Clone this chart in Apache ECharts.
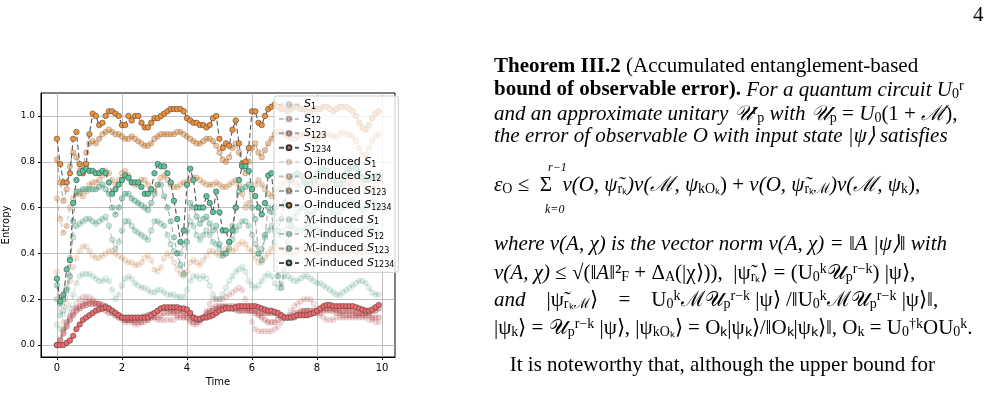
<!DOCTYPE html>
<html><head><meta charset="utf-8">
<script src="https://cdn.jsdelivr.net/npm/echarts@6/dist/echarts.min.js"></script>
<style>html,body{margin:0;background:#fff}#c{width:990px;height:413px}</style>
</head><body><div id="c"></div>
<script>
// time axis, 0.0 .. 9.9
var times = [];
for (var i = 0; i < 100; i++) times.push(+(i / 10).toFixed(1));
var yTicks = [0, 0.2, 0.4, 0.6, 0.8, 1.0];
var xTicks = [0, 2, 4, 6, 8, 10];

var s1 = [0,0.03,0.07,0.1,0.13,0.16,0.18,0.2,0.21,0.21,0.21,0.2,0.19,0.18,0.17,0.16,0.15,0.14,0.13,0.12,
 0.11,0.1,0.1,0.1,0.09,0.09,0.1,0.1,0.11,0.12,0.12,0.11,0.11,0.11,0.11,0.11,0.11,0.12,0.13,0.13,
 0.12,0.1,0.09,0.09,0.1,0.12,0.15,0.18,0.2,0.2,0.2,0.2,0.21,0.22,0.23,0.24,0.25,0.24,0.2,0.15,
 0.1,0.07,0.06,0.06,0.06,0.06,0.06,0.07,0.08,0.1,0.12,0.13,0.15,0.17,0.18,0.19,0.2,0.2,0.2,0.18,
 0.15,0.13,0.12,0.11,0.11,0.11,0.12,0.12,0.12,0.12,0.12,0.12,0.12,0.12,0.12,0.12,0.11,0.11,0.1,0.1];
var s12 = [0,0.02,0.06,0.09,0.12,0.14,0.16,0.17,0.18,0.19,0.19,0.19,0.18,0.17,0.16,0.15,0.14,0.14,0.13,0.12,
 0.12,0.11,0.11,0.11,0.1,0.1,0.1,0.11,0.11,0.12,0.12,0.12,0.13,0.14,0.14,0.14,0.14,0.13,0.12,0.12,
 0.12,0.11,0.1,0.1,0.11,0.12,0.14,0.15,0.16,0.17,0.17,0.17,0.17,0.17,0.17,0.17,0.16,0.16,0.16,0.16,
 0.15,0.14,0.13,0.12,0.11,0.1,0.1,0.1,0.11,0.12,0.12,0.12,0.13,0.14,0.14,0.15,0.15,0.15,0.14,0.14,
 0.14,0.14,0.15,0.15,0.15,0.15,0.14,0.14,0.13,0.13,0.13,0.13,0.13,0.13,0.13,0.13,0.13,0.12,0.12,0.12];
var s123 = [0,0.02,0.05,0.08,0.11,0.13,0.15,0.16,0.17,0.175,0.18,0.18,0.18,0.18,0.175,0.17,0.16,0.15,0.14,0.13,
 0.12,0.11,0.11,0.11,0.11,0.115,0.12,0.125,0.13,0.135,0.14,0.15,0.16,0.16,0.16,0.155,0.15,0.15,0.15,0.145,
 0.14,0.13,0.12,0.11,0.11,0.12,0.13,0.14,0.15,0.155,0.16,0.165,0.165,0.16,0.16,0.155,0.15,0.15,0.15,0.15,
 0.15,0.15,0.14,0.14,0.14,0.14,0.14,0.14,0.13,0.13,0.12,0.12,0.12,0.12,0.13,0.14,0.145,0.15,0.15,0.15,
 0.15,0.155,0.16,0.16,0.16,0.16,0.155,0.15,0.15,0.15,0.15,0.15,0.14,0.14,0.14,0.14,0.14,0.15,0.15,0.16];
var s1234 = [0,0,0,0.01,0.02,0.04,0.07,0.09,0.11,0.12,0.13,0.14,0.15,0.155,0.16,0.165,0.16,0.15,0.14,0.13,
 0.12,0.12,0.12,0.12,0.12,0.12,0.12,0.12,0.12,0.13,0.14,0.15,0.16,0.165,0.165,0.165,0.165,0.165,0.16,0.16,
 0.155,0.14,0.12,0.115,0.115,0.12,0.12,0.125,0.13,0.14,0.15,0.155,0.16,0.16,0.16,0.165,0.17,0.17,0.17,0.17,
 0.17,0.17,0.165,0.16,0.155,0.15,0.15,0.145,0.14,0.13,0.12,0.12,0.12,0.125,0.13,0.13,0.13,0.13,0.135,0.14,
 0.15,0.16,0.17,0.175,0.175,0.17,0.17,0.17,0.17,0.17,0.17,0.17,0.165,0.16,0.155,0.15,0.15,0.155,0.165,0.175];

var o1 = [0.32,0.2,0.1,0.18,0.28,0.34,0.38,0.41,0.43,0.43,0.41,0.39,0.38,0.38,0.39,0.4,0.41,0.41,0.4,0.39,
 0.38,0.37,0.36,0.36,0.35,0.35,0.36,0.38,0.39,0.37,0.33,0.32,0.34,0.38,0.4,0.39,0.36,0.33,0.31,0.3,
 0.32,0.36,0.37,0.36,0.35,0.37,0.39,0.41,0.41,0.4,0.39,0.4,0.42,0.42,0.41,0.42,0.44,0.45,0.44,0.42,
 0.41,0.38,0.36,0.36,0.38,0.4,0.42,0.43,0.43,0.42,0.41,0.4,0.4,0.4,0.41,0.42,0.43,0.43,0.42,0.41,
 0.4,0.4,0.41,0.42,0.42,0.41,0.4,0.4,0.41,0.42,0.42,0.41,0.4,0.4,0.41,0.42,0.43,0.42,0.41,0.4];
var o12 = [0.64,0.55,0.49,0.52,0.6,0.64,0.66,0.66,0.65,0.67,0.7,0.71,0.71,0.72,0.74,0.76,0.75,0.72,0.7,0.72,
 0.75,0.76,0.74,0.71,0.7,0.7,0.72,0.72,0.7,0.68,0.67,0.7,0.73,0.74,0.72,0.7,0.69,0.69,0.7,0.71,
 0.71,0.72,0.73,0.73,0.72,0.71,0.7,0.7,0.7,0.71,0.7,0.69,0.69,0.7,0.71,0.72,0.7,0.66,0.6,0.62,
 0.68,0.7,0.72,0.7,0.68,0.66,0.65,0.66,0.68,0.7,0.71,0.72,0.72,0.71,0.7,0.7,0.71,0.72,0.73,0.72,
 0.7,0.69,0.69,0.7,0.71,0.72,0.72,0.71,0.7,0.7,0.71,0.72,0.73,0.72,0.7,0.68,0.67,0.68,0.7,0.72];
var o123 = [0.81,0.71,0.63,0.68,0.78,0.84,0.82,0.76,0.78,0.84,0.88,0.89,0.88,0.9,0.92,0.93,0.94,0.93,0.92,0.92,
 0.91,0.9,0.9,0.91,0.9,0.89,0.88,0.87,0.87,0.88,0.9,0.91,0.92,0.92,0.92,0.92,0.92,0.93,0.93,0.92,
 0.91,0.9,0.89,0.88,0.88,0.89,0.9,0.9,0.89,0.87,0.84,0.81,0.8,0.82,0.86,0.88,0.84,0.78,0.75,0.8,
 0.86,0.88,0.84,0.82,0.85,0.88,0.9,0.92,0.93,0.93,0.92,0.91,0.9,0.9,0.91,0.92,0.92,0.92,0.91,0.9,
 0.9,0.91,0.92,0.92,0.92,0.91,0.91,0.92,0.93,0.92,0.92,0.91,0.89,0.86,0.83,0.83,0.86,0.89,0.91,0.92];
var o1234 = [0.9,0.79,0.71,0.71,0.75,0.9,0.93,0.79,0.75,0.79,0.92,1.01,1.0,0.96,0.97,1.0,1.02,1.02,1.01,1.0,
 0.96,0.96,1.0,0.98,1.0,1.0,0.97,0.95,0.95,0.97,0.99,0.99,1.0,1.01,1.02,1.03,1.03,1.03,1.03,1.02,
 0.99,0.98,0.97,0.97,0.96,0.96,0.95,0.96,0.99,1.0,0.9,0.86,0.88,0.87,0.94,0.98,0.88,0.79,0.8,0.86,
 1.02,1.02,0.97,0.96,1.0,1.03,1.04,1.05,1.04,1.03,1.03,1.02,1.03,1.04,1.04,1.03,1.03,1.02,1.02,1.03,
 1.03,1.03,1.04,1.04,1.03,1.02,1.03,1.04,1.04,1.04,1.03,1.02,1.0,0.97,0.95,0.94,0.96,0.99,1.01,1.02];

var m1 = [0.09,0.07,0.07,0.1,0.16,0.22,0.27,0.3,0.31,0.31,0.31,0.3,0.29,0.28,0.28,0.29,0.28,0.24,0.2,0.22,
 0.26,0.29,0.3,0.29,0.27,0.26,0.25,0.25,0.24,0.23,0.23,0.24,0.24,0.23,0.22,0.22,0.22,0.21,0.21,0.21,
 0.24,0.28,0.3,0.3,0.29,0.3,0.29,0.26,0.22,0.2,0.2,0.22,0.25,0.28,0.3,0.32,0.33,0.34,0.32,0.28,
 0.26,0.25,0.26,0.28,0.3,0.31,0.3,0.27,0.25,0.27,0.3,0.3,0.29,0.28,0.28,0.29,0.3,0.3,0.29,0.28,
 0.27,0.27,0.26,0.25,0.24,0.23,0.22,0.22,0.23,0.24,0.25,0.26,0.27,0.28,0.28,0.27,0.25,0.23,0.22,0.22];
var m12 = [0.2,0.13,0.15,0.25,0.38,0.47,0.52,0.53,0.54,0.55,0.55,0.54,0.53,0.54,0.55,0.56,0.52,0.46,0.42,0.45,
 0.5,0.54,0.54,0.52,0.5,0.49,0.48,0.47,0.46,0.5,0.54,0.54,0.53,0.52,0.48,0.44,0.41,0.4,0.4,0.44,
 0.5,0.54,0.52,0.48,0.46,0.48,0.5,0.48,0.45,0.44,0.42,0.4,0.4,0.42,0.46,0.5,0.52,0.54,0.54,0.52,
 0.48,0.44,0.4,0.42,0.47,0.5,0.52,0.5,0.48,0.48,0.5,0.52,0.52,0.51,0.5,0.5,0.51,0.52,0.52,0.51,
 0.5,0.49,0.48,0.47,0.47,0.48,0.49,0.5,0.51,0.52,0.52,0.51,0.5,0.5,0.5,0.51,0.52,0.52,0.5,0.49];
var m123 = [0.26,0.18,0.2,0.24,0.3,0.54,0.67,0.67,0.68,0.68,0.68,0.68,0.68,0.69,0.7,0.68,0.66,0.6,0.57,0.6,
 0.64,0.66,0.66,0.64,0.63,0.62,0.61,0.6,0.59,0.62,0.66,0.7,0.7,0.65,0.6,0.54,0.47,0.4,0.35,0.31,
 0.45,0.62,0.6,0.56,0.53,0.55,0.56,0.53,0.5,0.52,0.44,0.39,0.4,0.45,0.52,0.6,0.67,0.68,0.69,0.7,
 0.6,0.55,0.4,0.37,0.48,0.6,0.58,0.45,0.3,0.25,0.33,0.45,0.52,0.56,0.58,0.6,0.6,0.58,0.57,0.58,
 0.6,0.62,0.63,0.62,0.6,0.58,0.57,0.58,0.6,0.62,0.63,0.63,0.62,0.6,0.59,0.6,0.62,0.63,0.62,0.6];
var m1234 = [0.29,0.19,0.22,0.33,0.37,0.62,0.72,0.75,0.76,0.77,0.76,0.76,0.75,0.75,0.76,0.75,0.71,0.66,0.68,0.7,
 0.72,0.74,0.73,0.71,0.71,0.71,0.69,0.66,0.66,0.68,0.75,0.79,0.78,0.78,0.75,0.71,0.63,0.55,0.45,0.5,
 0.7,0.77,0.72,0.6,0.6,0.6,0.65,0.62,0.58,0.67,0.58,0.5,0.5,0.45,0.5,0.6,0.72,0.78,0.78,0.76,
 0.68,0.65,0.6,0.57,0.62,0.74,0.75,0.6,0.5,0.55,0.62,0.68,0.72,0.74,0.75,0.74,0.72,0.7,0.7,0.72,
 0.74,0.76,0.77,0.76,0.74,0.72,0.7,0.7,0.72,0.75,0.77,0.78,0.77,0.75,0.73,0.72,0.72,0.73,0.74,0.74];

var red = '#ee6a6c', orange = '#f0923b', green = '#5cc49b';
var alphas = [0.2, 0.35, 0.5, 1];
var groups = [
  { pre: '', color: red, data: [s1, s12, s123, s1234] },
  { pre: 'O-induced ', color: orange, data: [o1, o12, o123, o1234] },
  { pre: '\u2133-induced ', color: green, data: [m1, m12, m123, m1234] }
];
var subs = ['1', '12', '123', '1234'];

var series = [];
groups.forEach(function (g) {
  g.data.forEach(function (d, k) {
    series.push({
      name: g.pre + 'S_' + subs[k],
      type: 'line',
      data: times.map(function (t, i) { return [t, d[i]]; }),
      symbol: 'circle', symbolSize: 5.5,
      itemStyle: { color: g.color, borderColor: '#333', borderWidth: 0.5, opacity: alphas[k] },
      lineStyle: { color: '#555', width: 1.1, type: [5, 3], opacity: alphas[k] },
      emphasis: { disabled: true },
      z: 2 + k
    });
  });
});

var FS = 21, SS = 14;
var lines = [
  { y: 69, t: '{b|Theorem III.2} (Accumulated entanglement-based' },
  { y: 92, t: '{b|bound of observable error).} {i|For a quantum circuit U}{s|0}{sp|r}' },
  { y: 116, t: '{i|and an approximate unitary \u{1D4B0}}{sp|r}{s|p}{i| with \u{1D4B0}}{s|p}{n| = }{i|U}{s|0}{n|(1 + }{i|\u2133}{n|),}' },
  { y: 139, t: '{i|the error of observable O with input state |\u03C8\u27E9 satisfies}' },
  { y: 188, t: '{i|\u03B5}{s|O}{n| \u2264  \u03A3 }{i| v(O, \u03C8\u0303}{s|r\u2096}{i|)v(\u2133, \u03C8}{s|kO\u2096}{n|) + }{i|v(O, \u03C8\u0303}{s|r\u2096\u2133}{i|)v(\u2133, \u03C8}{s|k}{n|),}' },
  { y: 247, t: '{i|where v(A, \u03C7) is the vector norm v(A, \u03C7) = \u2016A |\u03C8\u27E9\u2016 with}' },
  { y: 275, t: '{i|v(A, \u03C7)} \u2264 \u221A(\u2016{i|A}\u2016\u00B2{s|F} + \u0394{s|A}(|\u03C7\u27E9)),  |\u03C8\u0303{s|r\u2096}\u27E9 = (U{s|0}{sp|k}\u{1D4B0}{s|p}{sp|r\u2212k}) |\u03C8\u27E9,' },
  { y: 302, t: '{i|and}    |\u03C8\u0303{s|r\u2096\u2133}\u27E9    =    U{s|0}{sp|k}\u2133\u{1D4B0}{s|p}{sp|r\u2212k} |\u03C8\u27E9 /\u2016U{s|0}{sp|k}\u2133\u{1D4B0}{s|p}{sp|r\u2212k} |\u03C8\u27E9\u2016,' },
  { y: 330, t: '|\u03C8{s|k}\u27E9 = \u{1D4B0}{s|p}{sp|r\u2212k} |\u03C8\u27E9, |\u03C8{s|kO\u2096}\u27E9 = O\u2096|\u03C8\u2096\u27E9/\u2016O\u2096|\u03C8\u2096\u27E9\u2016, O{s|k} = U{s|0}{sp|\u2020k}OU{s|0}{sp|k}.' },
  { y: 368, t: '   It is noteworthy that, although the upper bound for' }
];
var rich = {
  b: { fontWeight: 'bold', fontSize: FS, fontFamily: 'Liberation Serif', color: '#000' },
  i: { fontStyle: 'italic', fontSize: FS, fontFamily: 'Liberation Serif', color: '#000' },
  n: { fontSize: FS, fontFamily: 'Liberation Serif', color: '#000' },
  s: { fontSize: SS, fontFamily: 'Liberation Serif', color: '#000', verticalAlign: 'bottom', padding: [8, 0, 0, 0] },
  sp: { fontSize: SS, fontFamily: 'Liberation Serif', color: '#000', verticalAlign: 'top', padding: [0, 0, 8, 0] }
};
var graphic = lines.map(function (l) {
  return { type: 'text', left: 494, top: l.y - 13, z: 20,
    style: { text: l.t, rich: rich, fontSize: FS, fontFamily: 'Liberation Serif', fill: '#000' } };
});
graphic.push({ type: 'text', left: 973, top: 5, style: { text: '4', fontSize: FS, fontFamily: 'Liberation Serif', fill: '#000' } });
graphic.push({ type: 'text', left: 548, top: 162, style: { text: 'r\u22121', fontSize: 12, fontFamily: 'Liberation Serif', fontStyle: 'italic', fill: '#000' } });
graphic.push({ type: 'text', left: 545, top: 204, style: { text: 'k=0', fontSize: 12, fontFamily: 'Liberation Serif', fontStyle: 'italic', fill: '#000' } });

var chart = echarts.init(document.getElementById('c'));
chart.setOption({
  animation: false,
  textStyle: { fontFamily: 'DejaVu Sans' },
  grid: { left: 41, right: 595, top: 93, bottom: 56, show: true, borderColor: '#000', borderWidth: 1 },
  xAxis: {
    type: 'value', min: -0.49, max: 10.4,
    name: 'Time', nameLocation: 'middle', nameGap: 18, nameTextStyle: { fontSize: 10, color: '#000' },
    axisLine: { onZero: false, lineStyle: { color: '#000' } },
    axisTick: { customValues: xTicks, length: 3, lineStyle: { color: '#000' } },
    axisLabel: { customValues: xTicks, fontSize: 10, color: '#000', margin: 6 },
    splitLine: { show: true, lineStyle: { color: '#b0b0b0', width: 0.8 } }
  },
  yAxis: {
    type: 'value', min: -0.052, max: 1.1,
    name: 'Entropy', nameLocation: 'middle', nameGap: 30, nameTextStyle: { fontSize: 10, color: '#000' },
    axisLine: { show: true, onZero: false, lineStyle: { color: '#000' } },
    axisTick: { show: true, customValues: yTicks, length: 3, lineStyle: { color: '#000' } },
    axisLabel: { customValues: yTicks, fontSize: 9, color: '#000', margin: 6,
      formatter: function (v) { return v.toFixed(1); } },
    splitLine: { show: true, lineStyle: { color: '#b0b0b0', width: 0.8 } }
  },
  legend: {
    orient: 'vertical', left: 274, top: 96, itemGap: 2.4, itemWidth: 20, itemHeight: 6, z: 50,
    backgroundColor: 'rgba(255,255,255,0.8)', borderColor: '#ccc', borderWidth: 1, borderRadius: 3,
    padding: [3, 4, 3, 4],
    formatter: function (name) {
      var p = name.split('S_');
      return (p[0] ? '{n|' + p[0] + '}' : '') + '{i|S}{s|' + p[1] + '}';
    },
    textStyle: { fontSize: 11, color: '#000', fontFamily: 'DejaVu Sans',
      rich: {
        n: { fontSize: 11, fontFamily: 'DejaVu Sans', color: '#000' },
        i: { fontSize: 11, fontFamily: 'DejaVu Sans', fontStyle: 'italic', color: '#000' },
        s: { fontSize: 8, fontFamily: 'DejaVu Sans', color: '#000', verticalAlign: 'bottom', padding: [5, 0, 0, 0] }
      } }
  },
  graphic: graphic,
  series: series
});
</script></body></html>
